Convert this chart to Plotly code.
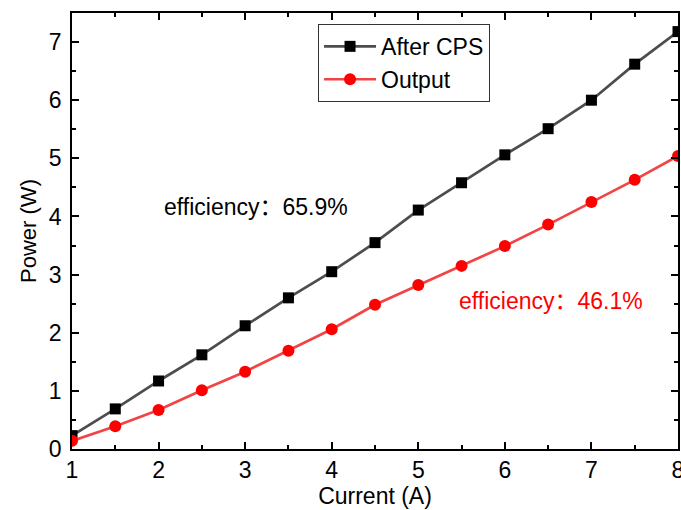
import plotly.graph_objects as go

current = [1, 1.5, 2, 2.5, 3, 3.5, 4, 4.5, 5, 5.5, 6, 6.5, 7, 7.5, 8]
after_cps = [0.23, 0.69, 1.17, 1.62, 2.12, 2.60, 3.05, 3.55, 4.11, 4.58, 5.06, 5.51, 6.00, 6.62, 7.18]
output = [0.14, 0.39, 0.67, 1.01, 1.33, 1.69, 2.06, 2.48, 2.82, 3.15, 3.49, 3.86, 4.25, 4.63, 5.04]

font = "Liberation Sans, Arial, Noto Sans CJK SC, sans-serif"

fig = go.Figure()
fig.add_trace(go.Scatter(
    x=current, y=after_cps, name="After CPS", mode="lines+markers",
    line=dict(color="#4d4d4d", width=2.7),
    marker=dict(symbol="square", size=11, color="black"),
))
fig.add_trace(go.Scatter(
    x=current, y=output, name="Output", mode="lines+markers",
    line=dict(color="#f24444", width=2.7),
    marker=dict(symbol="circle", size=12, color="#ff0000"),
))

axis_common = dict(
    showline=True, linecolor="black", linewidth=1.5, mirror="ticks",
    ticks="inside", ticklen=7, tickwidth=1.5, tickcolor="black",
    showgrid=False, zeroline=False, automargin=False,
    tickfont=dict(family=font, size=23, color="black"),
    ticklabeloverflow="allow",
)

fig.update_xaxes(
    range=[1, 8], dtick=1,
    title=dict(text="Current (A)", font=dict(family=font, size=23, color="black"), standoff=4),
    minor=dict(ticks="inside", ticklen=4, tickwidth=1.5, tickcolor="black", dtick=0.5),
    **axis_common,
)
fig.update_yaxes(
    range=[0, 7.5], dtick=1, ticklabelstandoff=4,
    title=dict(text="Power (W)", font=dict(family=font, size=22, color="black"), standoff=6),
    minor=dict(ticks="inside", ticklen=4, tickwidth=1.5, tickcolor="black", dtick=0.5),
    **axis_common,
)

fig.add_annotation(x=2.04, y=4.16, xref="x", yref="y", text="efficiency：65.9%",
                   showarrow=False, xanchor="left", font=dict(family=font, size=23, color="black"))
fig.add_annotation(x=5.45, y=2.55, xref="x", yref="y", text="efficiency：46.1%",
                   showarrow=False, xanchor="left", font=dict(family=font, size=23, color="#ff0000"))

fig.update_layout(
    width=681, height=510,
    margin=dict(l=72, r=3, t=13, b=61, autoexpand=False),
    plot_bgcolor="white", paper_bgcolor="white",
    showlegend=True,
    legend=dict(
        x=0.406, y=0.975, xanchor="left", yanchor="top",
        bordercolor="#333333", borderwidth=1, bgcolor="white",
        font=dict(family=font, size=23, color="black"),
        tracegroupgap=0, itemwidth=52,
    ),
)

fig.write_html("out.html")
